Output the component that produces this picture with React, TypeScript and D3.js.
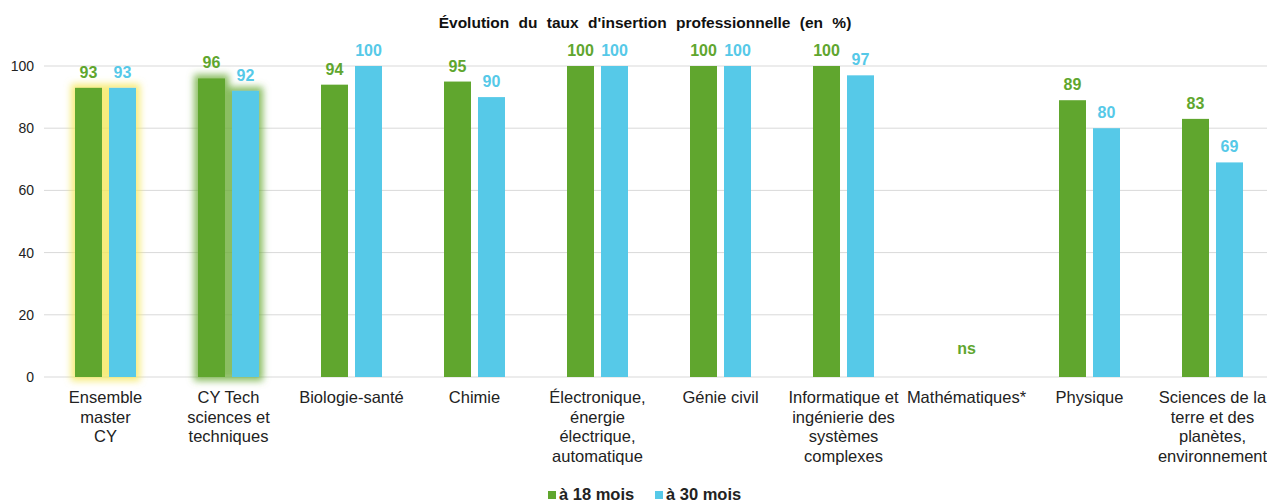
import * as d3 from 'd3';

const categories = [
    ['Ensemble', 'master', 'CY'],
    ['CY Tech', 'sciences et', 'techniques'],
    ['Biologie-santé'],
    ['Chimie'],
    ['Électronique,', 'énergie', 'électrique,', 'automatique'],
    ['Génie civil'],
    ['Informatique et', 'ingénierie des', 'systèmes', 'complexes'],
    ['Mathématiques*'],
    ['Physique'],
    ['Sciences de la', 'terre et des', 'planètes,', 'environnement'],
];
const at18: (number | null)[] = [93, 96, 94, 95, 100, 100, 100, null, 89, 83];
const at30: (number | null)[] = [93, 92, 100, 90, 100, 100, 97, null, 80, 69];
const glows: (string | null)[] = ['#f4e75c', '#6fae3c', null, null, null, null, null, null, null, null];
const yTicks = [0, 20, 40, 60, 80, 100];

const GREEN = '#60a62e';
const BLUE = '#56c9e8';

export default function App() {
    const width = 1267;
    const height = 503;
    const x = d3.scaleBand<number>()
        .domain(categories.map((_, i) => i))
        .range([44, 1274]);
    const y = d3.scaleLinear().domain([0, 100]).range([377, 66]);
    const barW = 27;
    const gap = 7;

    const series = [
        { name: 'à 18 mois', values: at18, color: GREEN, offset: -gap / 2 - barW },
        { name: 'à 30 mois', values: at30, color: BLUE, offset: gap / 2 },
    ];

    return (
        <svg width={width} height={height} style={{ position: 'absolute', left: 0, top: 0 }}
            fontFamily="'Liberation Sans', Arial, sans-serif">
            <defs>
                {glows.map((g, i) => g && (
                    <filter key={i} id={`glow${i}`} x="-50%" y="-20%" width="200%" height="140%">
                        <feMorphology in="SourceAlpha" operator="dilate" radius="4" result="d" />
                        <feGaussianBlur in="d" stdDeviation="3.5" result="b" />
                        <feFlood floodColor={g} floodOpacity="0.8" />
                        <feComposite in2="b" operator="in" result="c" />
                        <feMerge>
                            <feMergeNode in="c" />
                            <feMergeNode in="SourceGraphic" />
                        </feMerge>
                    </filter>
                ))}
            </defs>
            <text x={645} y={28} textAnchor="middle" fontWeight="bold" fontSize={15.5} fill="#111" wordSpacing={5}>
                Évolution du taux d'insertion professionnelle (en %)
            </text>
            {yTicks.map(t => (
                <g key={t}>
                    <line x1={44} x2={width} y1={y(t)} y2={y(t)} stroke="#d9d9d9" strokeWidth={1} />
                    <text x={34} y={y(t) + 5} textAnchor="end" fontSize={14} fill="#222">{t}</text>
                </g>
            ))}
            {categories.map((lines, i) => {
                const cx = (x(i) ?? 0) + x.bandwidth() / 2;
                return (
                    <g key={i}>
                        <g filter={glows[i] ? `url(#glow${i})` : undefined}>
                            {series.map(s => {
                                const v = s.values[i];
                                if (v == null) return null;
                                return <rect key={s.name} x={cx + s.offset} y={y(v)} width={barW}
                                    height={y(0) - y(v)} fill={s.color} />;
                            })}
                        </g>
                        {series.map(s => {
                            const v = s.values[i];
                            if (v == null) return null;
                            return <text key={s.name} x={cx + s.offset + barW / 2} y={y(v) - 10}
                                textAnchor="middle" fontWeight="bold" fontSize={16} fill={s.color}>{v}</text>;
                        })}
                        {at18[i] == null && at30[i] == null && (
                            <text x={cx} y={354} textAnchor="middle" fontWeight="bold" fontSize={16} fill={GREEN}>ns</text>
                        )}
                        <text x={cx} y={403} textAnchor="middle" fontSize={16.5} fill="#222">
                            {lines.map((l, j) => (
                                <tspan key={j} x={cx} dy={j === 0 ? 0 : 19.5}>{l}</tspan>
                            ))}
                        </text>
                    </g>
                );
            })}
            <g fontWeight="bold" fontSize={16.5} fill="#222">
                <rect x={548} y={491} width={8} height={8} fill={GREEN} />
                <text x={559} y={500}>à 18 mois</text>
                <rect x={655} y={491} width={8} height={8} fill={BLUE} />
                <text x={666} y={500}>à 30 mois</text>
            </g>
        </svg>
    );
}
